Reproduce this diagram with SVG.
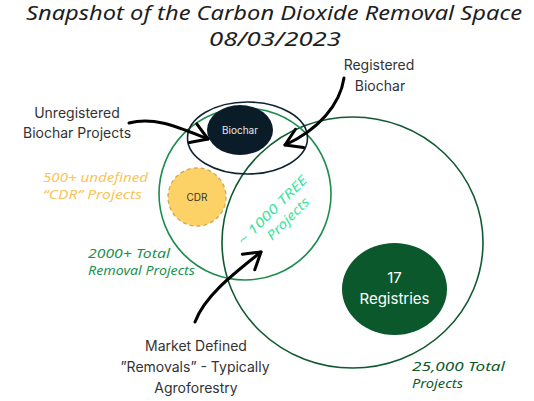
<svg xmlns="http://www.w3.org/2000/svg" width="534" height="401" viewBox="0 0 534 401">
  <style>
    .hand { font-family: "Noto Sans", "DejaVu Sans", sans-serif; font-style: italic; }
    .sans { font-family: Inter, "Liberation Sans", sans-serif; }
    .label { font-size: 14px; fill: #333333; text-anchor: middle; }
    .ring { fill: none; stroke-width: 1.6; }
    .arrow { fill: none; stroke: #000000; stroke-width: 3; stroke-linecap: round; stroke-linejoin: round; }
  </style>
  <defs>
    <marker id="ah" markerUnits="userSpaceOnUse" viewBox="-20 -15 30 30" markerWidth="30" markerHeight="30" refX="0" refY="0" orient="auto" overflow="visible">
      <path d="M-16,-10 L0,0 L-16,10" fill="none" stroke="#000000" stroke-width="3" stroke-linecap="round" stroke-linejoin="round"/>
    </marker>
  </defs>
  <rect width="534" height="401" fill="#ffffff"/>

  <g id="title" class="hand" fill="#1e1e1e" font-size="20" text-anchor="middle">
    <text x="274" y="20" textLength="496" lengthAdjust="spacingAndGlyphs">Snapshot of the Carbon Dioxide Removal Space</text>
    <text x="275" y="46" textLength="132" lengthAdjust="spacingAndGlyphs">08/03/2023</text>
  </g>

  <g id="total-projects">
    <ellipse class="ring" cx="352.5" cy="242.5" rx="130.5" ry="125.5" stroke="#0f5a30"/>
    <text class="hand" fill="#0c5a2e" font-size="12.5"><tspan x="412" y="371" textLength="93" lengthAdjust="spacingAndGlyphs">25,000 Total</tspan><tspan x="412" y="388" textLength="51" lengthAdjust="spacingAndGlyphs">Projects</tspan></text>
  </g>

  <g id="removal-projects">
    <circle class="ring" cx="245" cy="194" r="86" stroke="#1d8c4e"/>
    <text class="hand" fill="#1e9150" font-size="12.5"><tspan x="88" y="258" textLength="82" lengthAdjust="spacingAndGlyphs">2000+ Total</tspan><tspan x="88" y="275" textLength="107" lengthAdjust="spacingAndGlyphs">Removal Projects</tspan></text>
  </g>

  <g id="biochar-group">
    <ellipse class="ring" cx="247.5" cy="138" rx="60" ry="36" stroke="#0f2433"/>
  </g>

  <g id="biochar">
    <ellipse cx="240" cy="130" rx="33" ry="25" fill="#0b1c29"/>
    <text class="sans" x="240" y="133.5" font-size="10" fill="#e6e6e6" text-anchor="middle">Biochar</text>
  </g>

  <g id="cdr">
    <circle cx="197" cy="197" r="29" fill="#fcd166" stroke="#d6a84c" stroke-width="1.3" stroke-dasharray="4 3"/>
    <text class="sans" x="197" y="200.5" font-size="10" fill="#333333" text-anchor="middle">CDR</text>
    <text class="hand" fill="#f7c55a" font-size="12.5"><tspan x="43" y="182" textLength="105" lengthAdjust="spacingAndGlyphs">500+ undefined</tspan><tspan x="43" y="199" textLength="99" lengthAdjust="spacingAndGlyphs">“CDR” Projects</tspan></text>
  </g>

  <g id="tree-projects">
    <text class="hand" fill="#3de39c" font-size="13" transform="translate(243,246) rotate(-45)"><tspan x="0" y="0" textLength="92" lengthAdjust="spacingAndGlyphs">~ 1000 TREE</tspan><tspan x="24" y="17" textLength="54" lengthAdjust="spacingAndGlyphs">Projects</tspan></text>
  </g>

  <g id="registries">
    <ellipse cx="394.5" cy="289" rx="52.5" ry="46" fill="#0c582d"/>
    <text class="sans" font-size="15" fill="#ffffff" text-anchor="middle"><tspan x="394.5" y="283">17</tspan><tspan x="394.5" y="304">Registries</tspan></text>
  </g>

  <g id="label-unregistered">
    <text class="sans label"><tspan x="77" y="118">Unregistered</tspan><tspan x="77" y="138">Biochar Projects</tspan></text>
  </g>

  <g id="label-registered">
    <text class="sans label"><tspan x="379" y="70">Registered</tspan><tspan x="380" y="91">Biochar</tspan></text>
  </g>

  <g id="label-market">
    <text class="sans label"><tspan x="196" y="351">Market Defined</tspan><tspan x="195" y="372">”Removals” - Typically</tspan><tspan x="196" y="393">Agroforestry</tspan></text>
  </g>

  <g id="connectors">
    <path class="arrow" d="M129,123 C155,116 180,128 208,139" marker-end="url(#ah)"/>
    <path class="arrow" d="M344,78 C340,105 318,130 285,145" marker-end="url(#ah)"/>
    <path class="arrow" d="M195,322 C205,295 236,272 261,252" marker-end="url(#ah)"/>
  </g>
</svg>
